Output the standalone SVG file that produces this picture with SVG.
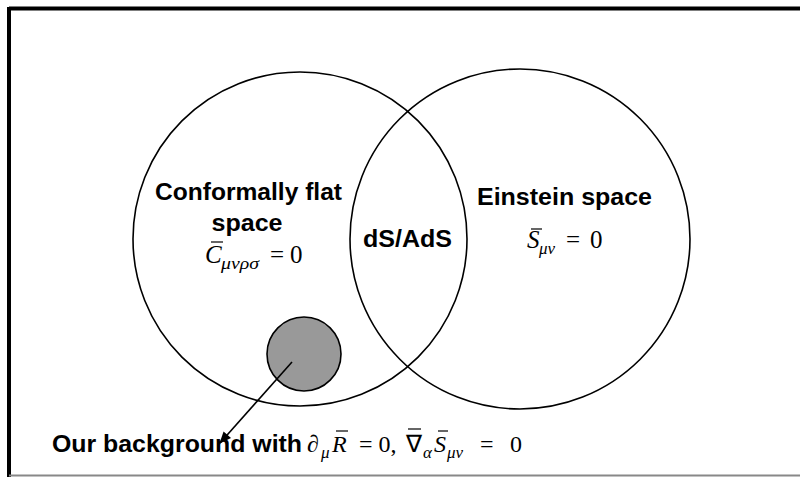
<svg xmlns="http://www.w3.org/2000/svg" width="800" height="477" viewBox="0 0 800 477">
<defs>
<style>
.lbl{font-family:"Liberation Sans",Arial,sans-serif;font-weight:bold;font-size:23px;fill:#000}
.m{font-family:"Liberation Serif","Times New Roman",serif;font-style:italic;font-size:25px;fill:#000}
.mu{font-family:"Liberation Serif","Times New Roman",serif;font-size:25px;fill:#000}
.sub{font-family:"Liberation Serif","Times New Roman",serif;font-style:italic;font-size:17px;fill:#000}
.bar{stroke:#000;stroke-width:1.2}
.circ{fill:none;stroke:#000;stroke-width:1.6}
</style>
<marker id="ah" viewBox="0 0 12 10" refX="11" refY="5" markerWidth="12" markerHeight="10" markerUnits="userSpaceOnUse" orient="auto" overflow="visible">
<path d="M0,0 L12,5 L0,10 z" fill="#000"/>
</marker>
</defs>
<rect width="800" height="477" fill="#fff"/>
<g id="frame">
<line x1="9" y1="8.5" x2="800" y2="8.5" stroke="#000" stroke-width="4"/>
<line x1="9" y1="7" x2="9" y2="477" stroke="#000" stroke-width="4"/>
<line x1="9" y1="475.5" x2="800" y2="475.5" stroke="#888" stroke-width="2"/>
</g>
<g id="conformally-flat">
<circle class="circ" cx="300" cy="239" r="167"/>
<text class="lbl" x="155" y="200" textLength="187" lengthAdjust="spacingAndGlyphs">Conformally flat</text>
<text class="lbl" x="247" y="231" text-anchor="middle" textLength="71" lengthAdjust="spacingAndGlyphs">space</text>
<text class="m" x="205" y="263">C</text>
<line class="bar" x1="211" y1="242" x2="223" y2="242"/>
<text class="sub" x="221" y="269" textLength="38" lengthAdjust="spacingAndGlyphs">μνρσ</text>
<text class="mu" x="270" y="263">=</text>
<text class="mu" x="290" y="263">0</text>
</g>
<g id="einstein">
<circle class="circ" cx="520" cy="239" r="170"/>
<text class="lbl" x="477" y="205" textLength="175" lengthAdjust="spacingAndGlyphs">Einstein space</text>
<text class="m" x="527" y="248">S</text>
<line class="bar" x1="531" y1="229" x2="542" y2="229"/>
<text class="sub" x="539" y="254">μν</text>
<text class="mu" x="566" y="248">=</text>
<text class="mu" x="590" y="248">0</text>
</g>
<g id="ds-ads">
<text class="lbl" x="407.5" y="247" text-anchor="middle" textLength="89" lengthAdjust="spacingAndGlyphs">dS/AdS</text>
</g>
<g id="background">
<circle cx="304" cy="354" r="37" fill="#999" stroke="#000" stroke-width="1.6"/>
</g>
<g id="connectors">
<line x1="292" y1="362" x2="220" y2="443" stroke="#000" stroke-width="1.6" marker-end="url(#ah)"/>
</g>
<g id="bottom-label">
<text class="lbl" x="52" y="452" textLength="250" lengthAdjust="spacingAndGlyphs">Our background with</text>
<text class="m" x="307" y="452" style="font-size:24px">∂</text>
<text class="sub" x="321" y="458">μ</text>
<text class="m" x="332" y="452" style="font-size:24px">R</text>
<line class="bar" x1="336" y1="431" x2="348" y2="431"/>
<text class="mu" x="359" y="452" style="font-size:24px">= 0,</text>
<text class="mu" x="406" y="452" style="font-size:24px">∇</text>
<line class="bar" x1="408" y1="429" x2="421" y2="429"/>
<text class="sub" x="423" y="458">α</text>
<text class="m" x="434" y="452" style="font-size:24px">S</text>
<line class="bar" x1="438" y1="431" x2="448" y2="431"/>
<text class="sub" x="447" y="458">μν</text>
<text class="mu" x="480" y="452" style="font-size:24px">=</text>
<text class="mu" x="510" y="452" style="font-size:24px">0</text>
</g>
</svg>
